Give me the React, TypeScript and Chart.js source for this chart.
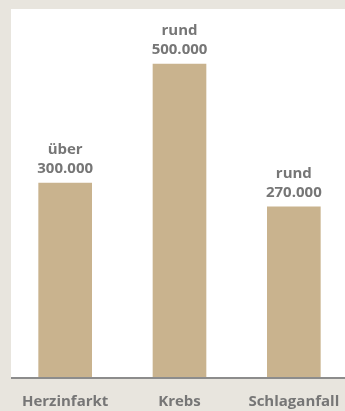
import React, { useEffect, useRef } from "react";
import { Chart, registerables } from "chart.js";

Chart.register(...registerables);

const categories = ["Herzinfarkt", "Krebs", "Schlaganfall"];
const values = [310000, 500000, 272000];
const valueLabelTop = ["über", "rund", "rund"];
const valueLabelBottom = ["300.000", "500.000", "270.000"];

const PAGE_BG = "#e8e5de";
const PANEL_BG = "#ffffff";
const BAR_COLOR = "#c9b38e";
const TEXT_COLOR = "#767676";
const AXIS_COLOR = "#8c8c8c";
const FONT_FAMILY = "'Open Sans', 'DejaVu Sans', sans-serif";
const PANEL_LEFT = 11;

const panelPlugin = {
  id: "panel",
  beforeDraw(chart: any) {
    const { ctx, chartArea, width, height } = chart;
    ctx.save();
    ctx.fillStyle = PAGE_BG;
    ctx.fillRect(0, 0, width, height);
    ctx.fillStyle = PANEL_BG;
    ctx.fillRect(PANEL_LEFT, chartArea.top, width - PANEL_LEFT, chartArea.bottom - chartArea.top);
    ctx.restore();
  },
  afterDraw(chart: any) {
    const { ctx, chartArea, width } = chart;
    ctx.save();
    ctx.strokeStyle = AXIS_COLOR;
    ctx.lineWidth = 2;
    ctx.beginPath();
    ctx.moveTo(PANEL_LEFT, chartArea.bottom + 1);
    ctx.lineTo(width, chartArea.bottom + 1);
    ctx.stroke();
    ctx.restore();
  },
};

const valueLabelPlugin = {
  id: "valueLabels",
  afterDatasetsDraw(chart: any) {
    const { ctx } = chart;
    const meta = chart.getDatasetMeta(0);
    ctx.save();
    ctx.fillStyle = TEXT_COLOR;
    ctx.font = `bold 15px ${FONT_FAMILY}`;
    ctx.textAlign = "center";
    ctx.textBaseline = "alphabetic";
    meta.data.forEach((bar: any, i: number) => {
      const x = bar.x;
      const y = bar.y;
      ctx.fillText(valueLabelBottom[i], x, y - 10);
      ctx.fillText(valueLabelTop[i], x, y - 29);
    });
    ctx.restore();
  },
};

export default function App() {
  const canvasRef = useRef<HTMLCanvasElement | null>(null);

  useEffect(() => {
    document.body.style.margin = "0";
    document.body.style.background = PAGE_BG;
    const canvas = canvasRef.current;
    if (!canvas) return;
    const chart = new Chart(canvas, {
      type: "bar",
      data: {
        labels: categories,
        datasets: [
          {
            data: values,
            backgroundColor: BAR_COLOR,
            borderWidth: 0,
            barThickness: 53,
          },
        ],
      },
      options: {
        responsive: false,
        animation: false,
        layout: { padding: { top: 9, left: 8, right: 0, bottom: -16 } },
        plugins: {
          legend: { display: false },
          tooltip: { enabled: false },
        },
        scales: {
          x: {
            grid: { display: false, drawTicks: false },
            border: { display: false },
            afterFit(scale: any) {
              scale.paddingLeft = 0;
              scale.paddingRight = 0;
            },
            ticks: {
              color: TEXT_COLOR,
              padding: 16,
              maxRotation: 0,
              autoSkip: false,
              font: { family: FONT_FAMILY, size: 15, weight: "bold" },
            },
          },
          y: {
            display: false,
            min: 0,
            max: 588000,
          },
        },
      },
      plugins: [panelPlugin, valueLabelPlugin],
    });
    return () => chart.destroy();
  }, []);

  return (
    <div style={{ width: 345, height: 411, background: PAGE_BG, overflow: "hidden" }}>
      <canvas ref={canvasRef} width={351} height={411} style={{ display: "block" }} />
    </div>
  );
}
